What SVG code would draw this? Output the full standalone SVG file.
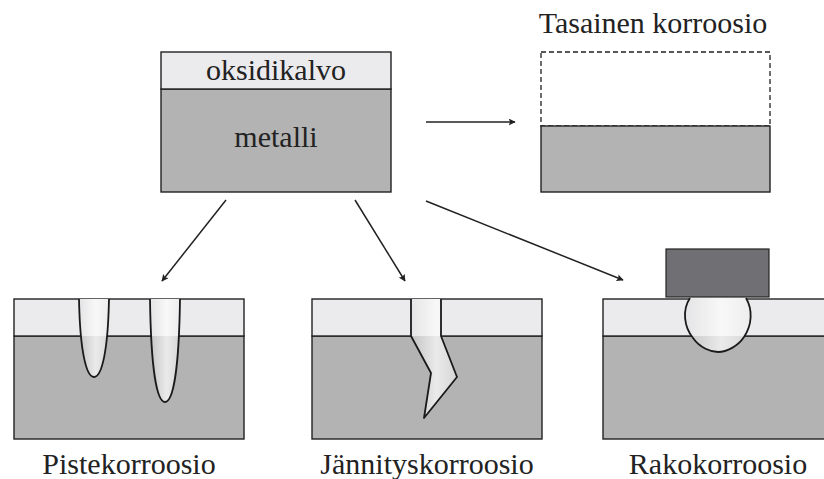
<svg xmlns="http://www.w3.org/2000/svg" width="824" height="479" viewBox="0 0 824 479">
  <style>
    .lbl { font-size: 30px; fill: #222; text-anchor: middle; }
    .oxide { fill: #ebebed; stroke: #222; stroke-width: 1.4; }
    .metal { fill: #b3b3b3; stroke: #222; stroke-width: 1.4; }
    .conn { fill: none; stroke: #222; stroke-width: 1.5; marker-end: url(#arrow); }
    .pitline { fill: none; stroke: #1a1a1a; stroke-width: 1.8; stroke-linejoin: round; }
  </style>
  <defs>
    <marker id="arrow" viewBox="0 0 10 10" refX="9" refY="5" markerWidth="7" markerHeight="7" orient="auto" markerUnits="userSpaceOnUse">
      <path d="M0,0 L10,5 L0,10 L2,5 Z" fill="#222"/>
    </marker>
    <linearGradient id="gOx" x1="0" y1="0" x2="1" y2="0">
      <stop offset="0" stop-color="#e4e4e6"/>
      <stop offset="0.55" stop-color="#f8f8f8"/>
      <stop offset="1" stop-color="#ededee"/>
    </linearGradient>
    <linearGradient id="gMe" x1="0" y1="0" x2="1" y2="0">
      <stop offset="0" stop-color="#c4c4c6"/>
      <stop offset="0.55" stop-color="#eaeaea"/>
      <stop offset="1" stop-color="#d6d6d8"/>
    </linearGradient>
    <clipPath id="cOx"><rect x="0" y="290" width="824" height="46"/></clipPath>
    <clipPath id="cMe"><rect x="0" y="336" width="824" height="120"/></clipPath>
    <path id="pit1" d="M79,299 C80,350 86,377 94,377 C102,377 108,350 109,299 Z"/>
    <path id="pit2" d="M150,299 C151,370 157,402 165,402 C173,402 179,370 180,299 Z"/>
    <path id="crack" d="M411,299 L411,336 L431,373 L424,418 L457,377 L441,336 L441,299 Z"/>
    <path id="crev" d="M690,298 C682,310 684,327 693,338 C700,348 711,352 718,352 C727,352 738,346 744,337 C752,325 753,310 746,298 Z"/>
  </defs>

  <g font-family="Liberation Serif, Times New Roman, serif">
  <!-- Source: metal with oxide film -->
  <g id="source">
    <rect class="metal" x="161" y="89" width="230" height="103"/>
    <rect class="oxide" x="161" y="52" width="230" height="37"/>
    <text class="lbl" x="276" y="80">oksidikalvo</text>
    <text class="lbl" x="276" y="147">metalli</text>
  </g>

  <!-- Uniform corrosion -->
  <g id="uniform">
    <text class="lbl" x="653" y="33">Tasainen korroosio</text>
    <rect x="541" y="52" width="229" height="74" fill="none" stroke="#222" stroke-width="1.3" stroke-dasharray="5,3"/>
    <rect class="metal" x="541" y="126" width="229" height="66"/>
  </g>

  <!-- Pitting -->
  <g id="pitting">
    <rect class="metal" x="14" y="336" width="230" height="103"/>
    <rect class="oxide" x="14" y="299" width="230" height="37"/>
    <use href="#pit1" fill="url(#gOx)" clip-path="url(#cOx)"/>
    <use href="#pit1" fill="url(#gMe)" clip-path="url(#cMe)"/>
    <use href="#pit2" fill="url(#gOx)" clip-path="url(#cOx)"/>
    <use href="#pit2" fill="url(#gMe)" clip-path="url(#cMe)"/>
    <path class="pitline" d="M79,299 C80,350 86,377 94,377 C102,377 108,350 109,299"/>
    <path class="pitline" d="M150,299 C151,370 157,402 165,402 C173,402 179,370 180,299"/>
    <text class="lbl" x="129" y="474">Pistekorroosio</text>
  </g>

  <!-- Stress corrosion cracking -->
  <g id="stress">
    <rect class="metal" x="312" y="336" width="230" height="103"/>
    <rect class="oxide" x="312" y="299" width="230" height="37"/>
    <use href="#crack" fill="url(#gOx)" clip-path="url(#cOx)"/>
    <use href="#crack" fill="url(#gMe)" clip-path="url(#cMe)"/>
    <path class="pitline" d="M411,299 L411,336 L431,373 L424,418 L457,377 L441,336 L441,299"/>
    <text class="lbl" x="427" y="474">Jännityskorroosio</text>
  </g>

  <!-- Crevice corrosion -->
  <g id="crevice">
    <rect class="metal" x="603" y="336" width="230" height="103"/>
    <rect class="oxide" x="603" y="299" width="230" height="37"/>
    <use href="#crev" fill="url(#gOx)" clip-path="url(#cOx)"/>
    <use href="#crev" fill="url(#gMe)" clip-path="url(#cMe)"/>
    <path class="pitline" d="M690,298 C682,310 684,327 693,338 C700,348 711,352 718,352 C727,352 738,346 744,337 C752,325 753,310 746,298"/>
    <rect x="666" y="249" width="103" height="48" fill="#707074" stroke="#222" stroke-width="1.2"/>
    <text class="lbl" x="718" y="474">Rakokorroosio</text>
  </g>
  </g>

  <!-- Connectors -->
  <g id="connectors">
    <line class="conn" x1="426" y1="122" x2="515" y2="122"/>
    <line class="conn" x1="226" y1="200" x2="162" y2="281"/>
    <line class="conn" x1="355" y1="200" x2="405" y2="281"/>
    <line class="conn" x1="426" y1="201" x2="623" y2="280"/>
  </g>
</svg>
